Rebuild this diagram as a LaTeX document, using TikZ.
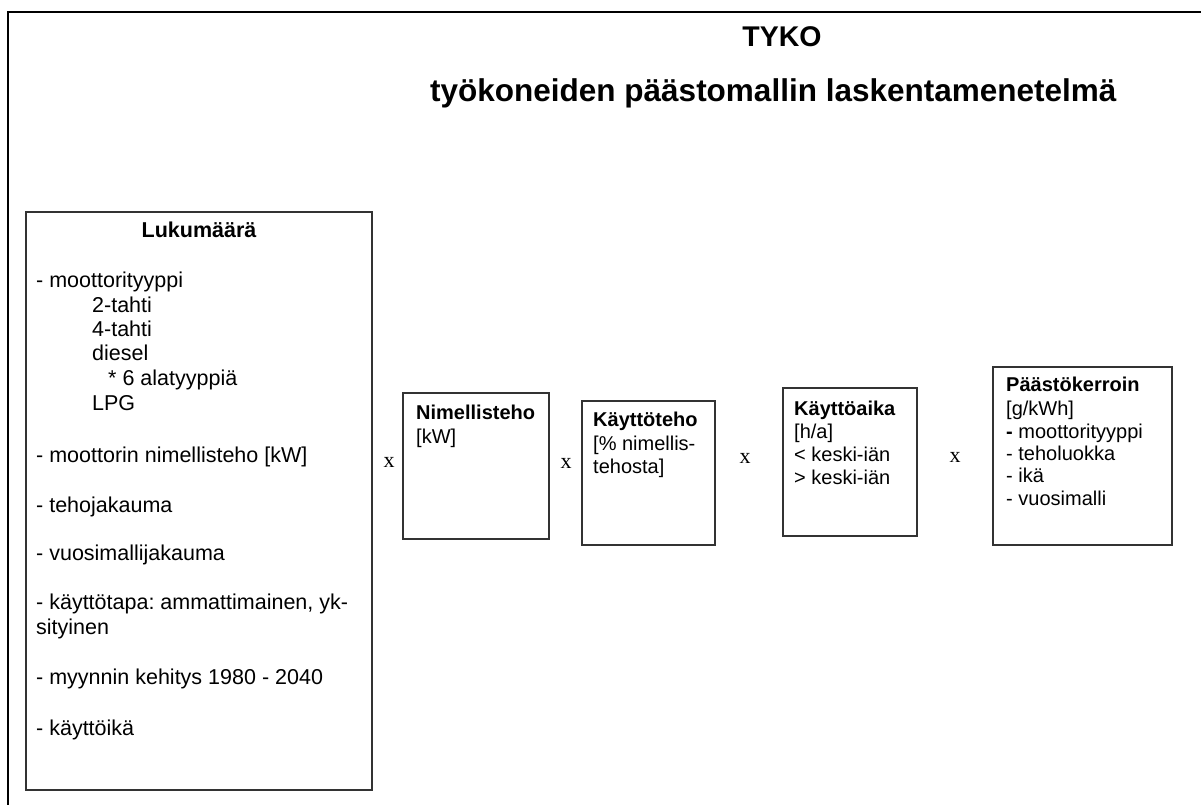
\documentclass[tikz,border=0pt]{standalone}
\usepackage{fontspec}
\setmainfont{Liberation Sans}
\newfontfamily\serifx{Liberation Serif}
\frenchspacing
\begin{document}
\begin{tikzpicture}[x=1pt,y=-1pt,
  frame/.style={draw=black, line width=2pt},
  box/.style={draw=black!80, line width=1.3pt},
  ltxt/.style={anchor=base west, inner sep=0pt, font=\fontsize{21.5}{24}\selectfont},
  txt/.style={anchor=base west, inner sep=0pt, font=\fontsize{20}{23}\selectfont},
  btxt/.style={txt, font=\fontsize{20}{23}\selectfont\bfseries},
  ttl/.style={anchor=base, inner sep=0pt, font=\fontsize{28.5}{32}\selectfont\bfseries},
  times/.style={inner sep=0pt, font=\serifx\fontsize{22}{24}\selectfont}]
\useasboundingbox (0,0) rectangle (1201,805);
\fill[white] (0,0) rectangle (1201,805);
% outer frame (top and left visible)
\draw[frame] (8,805) -- (8,12) -- (1201,12);
% title
\node[ttl] (t1) at (782,47) {TYKO};
\node[ttl, anchor=base west, font=\fontsize{31.5}{34}\selectfont\bfseries] (t2) at (430,102) {työkoneiden päästomallin laskentamenetelmä};
% boxes
\draw[box] (26,212) rectangle (372,790);
\draw[box] (403,393) rectangle (549,539);
\draw[box] (582,401) rectangle (715,545);
\draw[box] (783,388) rectangle (917,536);
\draw[box] (993,367) rectangle (1172,545);
% Lukumäärä
\node[ltxt, anchor=base, font=\fontsize{21.5}{24}\selectfont\bfseries] (l0) at (199,237) {Lukumäärä};
\node[ltxt] (l1) at (36,287) {- moottorityyppi};
\node[ltxt] (l2) at (92,312) {2-tahti};
\node[ltxt] (l3) at (92,336) {4-tahti};
\node[ltxt] (l4) at (92,360) {diesel};
\node[ltxt] (l5) at (108,385) {* 6 alatyyppiä};
\node[ltxt] (l6) at (92,410) {LPG};
\node[ltxt] (l7) at (36,462) {- moottorin nimellisteho [kW]};
\node[ltxt] (l8) at (36,512) {- tehojakauma};
\node[ltxt] (l9) at (36,560) {- vuosimallijakauma};
\node[ltxt] (l10) at (36,609) {- käyttötapa: ammattimainen, yk-};
\node[ltxt] (l11) at (36,634) {sityinen};
\node[ltxt] (l12) at (36,684) {- myynnin kehitys 1980 - 2040};
\node[ltxt] (l13) at (36,735) {- käyttöikä};
% Nimellisteho
\node[btxt] (n0) at (416,419) {Nimellisteho};
\node[txt] (n1) at (416,443) {[kW]};
% Käyttöteho
\node[btxt] (k0) at (593,426) {Käyttöteho};
\node[txt] (k1) at (593,450) {[\% nimellis-};
\node[txt] (k2) at (593,473) {tehosta]};
% Käyttöaika
\node[btxt] (a0) at (794,415) {Käyttöaika};
\node[txt] (a1) at (794,438) {[h/a]};
\node[txt] (a2) at (794,461) {< keski-iän};
\node[txt] (a3) at (794,484) {> keski-iän};
% Päästökerroin
\node[btxt] (p0) at (1006,391) {Päästökerroin};
\node[txt] (p1) at (1006,415) {[g/kWh]};
\node[txt] (p2) at (1006,438) {\textbf{-} moottorityyppi};
\node[txt] (p3) at (1006,460) {- teholuokka};
\node[txt] (p4) at (1006,482) {- ikä};
\node[txt] (p5) at (1006,505) {- vuosimalli};
% multiplication signs
\node[times] (x1) at (389,462) {x};
\node[times] (x2) at (566,463) {x};
\node[times] (x3) at (745,458) {x};
\node[times] (x4) at (955,457) {x};
\end{tikzpicture}
\end{document}
